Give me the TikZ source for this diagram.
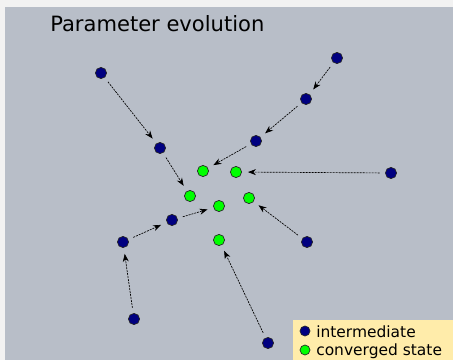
\documentclass[tikz,border=0pt]{standalone}
\usepackage{fontspec}
\setmainfont{DejaVu Sans}
\usetikzlibrary{arrows.meta,positioning}
\definecolor{pagegray}{RGB}{242,242,242}
\definecolor{panelgray}{RGB}{184,190,200}
\definecolor{midblue}{RGB}{0,0,128}
\definecolor{convgreen}{RGB}{0,255,0}
\definecolor{legendyellow}{RGB}{255,236,170}

\begin{document}
\begin{tikzpicture}[x=0.75pt, y=-0.75pt,
    mid/.style={circle, draw=black!85, fill=midblue, minimum size=8.4pt, inner sep=0pt, line width=0.5pt},
    conv/.style={circle, draw=black!85, fill=convgreen, minimum size=8.4pt, inner sep=0pt, line width=0.5pt},
    keydot/.style={circle, draw=black!85, minimum size=7.5pt, inner sep=0pt, line width=0.5pt},
    trail/.style={-{Stealth[length=6pt, width=4.5pt]}, line width=0.5pt, dash pattern=on 1.5pt off 0.75pt, shorten <=4pt, shorten >=4.5pt},
    keytext/.style={anchor=base west, inner sep=0pt, font=\fontsize{11.6pt}{13pt}\selectfont}
]
\useasboundingbox (0,0) rectangle (453,360);
\fill[pagegray] (0,0) rectangle (453,360);
\fill[panelgray] (5,7) rectangle (453,360);

\node[anchor=base west, inner sep=0pt, font=\fontsize{15.8pt}{18pt}\selectfont] (Title) at (50,32) {Parameter evolution};

\foreach \n/\x/\y in {a/101/73, b/160/148, c/337/58, d/306/99, e/256/141, f/391/173,
                      g/307/242, h/172/220, i/123/242, j/134/319, k/268/343}
    \node[mid] (Mid\n) at (\x,\y) {};

\foreach \n/\x/\y in {a/203/171, b/236/172, c/190/196, d/249/198, e/219/206, f/219/240}
    \node[conv] (Conv\n) at (\x,\y) {};

% trajectories
\foreach \a/\b in {Mida/Midb, Midb/Convc, Midc/Midd, Midd/Mide, Mide/Conva, Midf/Convb,
                   Midg/Convd, Midj/Midi, Midi/Midh, Midh/Conve, Midk/Convf}
    \draw[trail] (\a) -- (\b);

% legend
\fill[legendyellow] (293,320) rectangle (453,360);
\node[keydot, fill=midblue] (KeyMid) at (305,331) {};
\node[keydot, fill=convgreen] (KeyConv) at (305,350) {};
\node[keytext] (KeyMidText) at (316,337) {intermediate};
\node[keytext] (KeyConvText) at (316,355) {converged state};
\end{tikzpicture}
\end{document}
